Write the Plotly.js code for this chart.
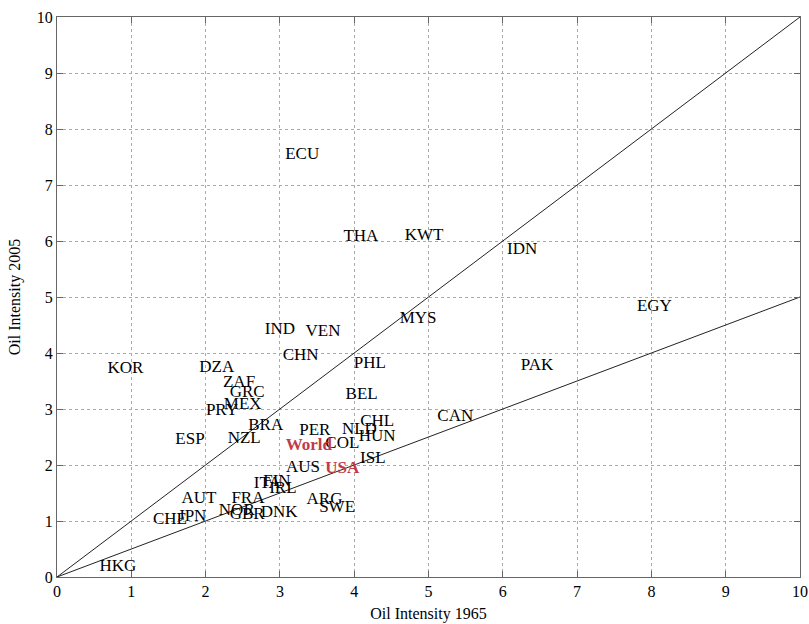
<!DOCTYPE html>
<html>
<head>
<meta charset="utf-8">
<script src="https://cdn.plot.ly/plotly-3.0.1.min.js"></script>
<style>html,body{margin:0;padding:0;background:#fff;}#chart{width:809px;height:624px;}</style>
</head>
<body>
<div id="chart"></div>
<script>
const countries = ["ECU","THA","KWT","IDN","EGY","MYS","IND","VEN","CHN","PHL","PAK","KOR","DZA","ZAF","GRC","BEL","MEX","PRY","CAN","CHL","BRA","NLD","PER","ESP","NZL","HUN","COL","ISL","AUS","ITA","FIN","IRL","AUT","FRA","ARG","SWE","NOR","GBR","DNK","JPN","CHE","HKG"];
const intensity1965 = [3.30,4.09,4.94,6.26,8.04,4.86,3.00,3.58,3.28,4.21,6.46,0.92,2.15,2.45,2.56,4.10,2.50,2.22,5.36,4.31,2.81,4.07,3.47,1.79,2.52,4.31,3.84,4.25,3.31,2.83,2.96,3.04,1.91,2.57,3.60,3.77,2.42,2.56,2.99,1.82,1.52,0.82];
const intensity2005 = [7.54,6.07,6.09,5.84,4.82,4.61,4.41,4.38,3.95,3.80,3.77,3.71,3.74,3.46,3.29,3.25,3.07,2.96,2.86,2.77,2.70,2.63,2.61,2.45,2.46,2.50,2.38,2.11,1.95,1.66,1.70,1.57,1.39,1.39,1.38,1.23,1.18,1.11,1.14,1.07,1.02,0.18];
const highlightNames = ["World","USA"];
const highlight1965 = [3.39,3.84];
const highlight2005 = [2.34,1.93];
const refX = [0,10];
const refEqual = [0,10];
const refHalf = [0,5];

const serif = "Liberation Serif, DejaVu Serif, serif";
const traces = [
  {x: refX, y: refEqual, mode: "lines", line: {color: "#222", width: 1}, hoverinfo: "skip", showlegend: false},
  {x: refX, y: refHalf, mode: "lines", line: {color: "#222", width: 1}, hoverinfo: "skip", showlegend: false},
  {x: intensity1965, y: intensity2005, text: countries, mode: "text", textposition: "middle center",
   textfont: {family: serif, size: 17, color: "#000"}, showlegend: false},
  {x: highlight1965, y: highlight2005, text: highlightNames.map(s => "<b>" + s + "</b>"), mode: "text", textposition: "middle center",
   textfont: {family: serif, size: 17, color: "#c23a4b"}, showlegend: false}
];

const axisBase = {
  range: [0, 10], dtick: 1, tick0: 0,
  showline: true, linecolor: "#666", linewidth: 1, mirror: "ticks",
  ticks: "inside", ticklen: 6, tickcolor: "#666",
  showgrid: true, gridcolor: "#aaa", griddash: "dot", gridwidth: 1,
  zeroline: false, tickfont: {family: serif, size: 16, color: "#000"}
};

const layout = {
  width: 809, height: 624,
  margin: {l: 57, r: 9, t: 17, b: 47},
  paper_bgcolor: "#fff", plot_bgcolor: "#fff",
  xaxis: Object.assign({}, axisBase, {title: {text: "Oil Intensity 1965", font: {family: serif, size: 16, color: "#000"}, standoff: 8}}),
  yaxis: Object.assign({}, axisBase, {title: {text: "Oil Intensity 2005", font: {family: serif, size: 16, color: "#000"}, standoff: 12}}),
  showlegend: false
};

Plotly.newPlot("chart", traces, layout, {staticPlot: true, displayModeBar: false});
</script>
</body>
</html>
